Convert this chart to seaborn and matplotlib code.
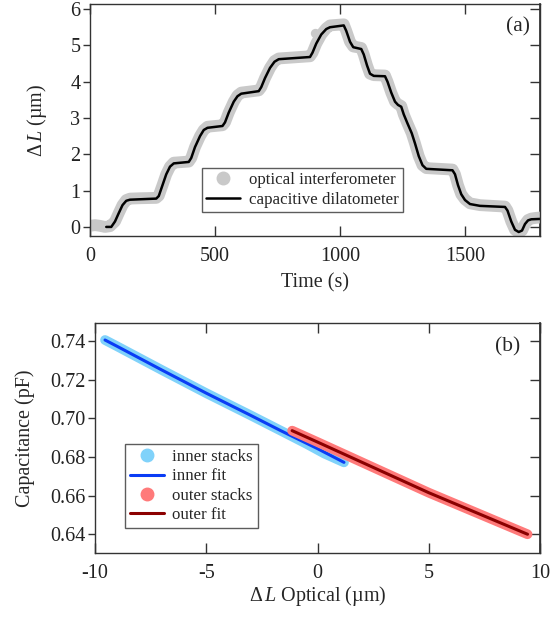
import numpy as np
import pandas as pd
import seaborn as sns
import matplotlib
matplotlib.use("Agg")
import matplotlib.pyplot as plt
from matplotlib.lines import Line2D

# ---------------- data ----------------
# panel (a): capacitive dilatometer (black line)
cap_t = [65, 85, 100, 115, 130, 145, 160, 265, 275, 290, 305, 320, 335, 395,
         405, 420, 440, 455, 470, 530, 540, 555, 575, 590, 605, 675, 685, 700,
         720, 738, 755, 880, 890, 905, 925, 945, 960, 1015, 1025, 1040, 1053,
         1085, 1095, 1108, 1120, 1135, 1180, 1190, 1205, 1220, 1232, 1245, 1255,
         1270, 1287, 1300, 1315, 1330, 1345, 1450, 1460, 1472, 1485, 1500, 1520,
         1560, 1660, 1670, 1685, 1700, 1715, 1728, 1740, 1752, 1765, 1800]
cap_v = [0.0, 0.0, 0.15, 0.38, 0.6, 0.72, 0.75, 0.78, 0.85, 1.15, 1.45, 1.66,
         1.75, 1.79, 1.9, 2.2, 2.5, 2.67, 2.73, 2.78, 2.88, 3.15, 3.45, 3.6,
         3.67, 3.74, 3.85, 4.1, 4.38, 4.55, 4.62, 4.68, 4.8, 5.05, 5.3, 5.45,
         5.5, 5.55, 5.4, 5.1, 4.95, 4.9, 4.75, 4.45, 4.22, 4.16, 4.15, 4.0, 3.7,
         3.45, 3.36, 3.31, 3.1, 2.85, 2.58, 2.3, 1.95, 1.7, 1.6, 1.56, 1.45,
         1.15, 0.9, 0.74, 0.63, 0.58, 0.55, 0.45, 0.15, -0.08, -0.14, -0.1,
         0.08, 0.18, 0.21, 0.22]

# panel (a): optical interferometer (grey points)
opt_t = [0, 20, 40, 60, 80, 100, 115, 130, 145, 160, 200, 265, 275, 290, 305,
         320, 335, 395, 405, 420, 440, 455, 470, 530, 540, 555, 575, 590, 605,
         675, 685, 700, 720, 738, 755, 880, 890, 905, 925, 945, 960, 1015, 1025,
         1040, 1053, 1085, 1095, 1108, 1120, 1135, 1180, 1190, 1205, 1220, 1232,
         1245, 1255, 1270, 1287, 1300, 1315, 1330, 1345, 1450, 1460, 1472, 1485,
         1500, 1520, 1560, 1660, 1670, 1685, 1700, 1715, 1728, 1740, 1752, 1765,
         1785, 1800]
opt_v = [0.03, 0.05, 0.03, 0.0, 0.02, 0.15, 0.38, 0.6, 0.74, 0.78, 0.79, 0.8,
         0.86, 1.15, 1.45, 1.66, 1.77, 1.8, 1.9, 2.2, 2.5, 2.67, 2.76, 2.8, 2.88,
         3.15, 3.45, 3.62, 3.7, 3.76, 3.85, 4.1, 4.38, 4.57, 4.64, 4.7, 4.8,
         5.05, 5.3, 5.47, 5.55, 5.58, 5.4, 5.1, 4.97, 4.93, 4.75, 4.45, 4.22,
         4.18, 4.17, 4.0, 3.7, 3.45, 3.38, 3.33, 3.1, 2.85, 2.58, 2.3, 1.95,
         1.7, 1.62, 1.58, 1.45, 1.15, 0.9, 0.76, 0.65, 0.6, 0.56, 0.45, 0.15,
         -0.08, -0.15, -0.1, 0.08, 0.19, 0.23, 0.25, 0.26]
opt_out_t = [900]
opt_out_v = [5.35]

# panel (b)
inner_x = [-9.55, -9.0, -7.0, -5.0, -3.0, -1.67, -0.5, 0.3, 1.19]
inner_y = [0.7405, 0.7372, 0.7250, 0.7130, 0.7015, 0.6937, 0.6868, 0.6818, 0.6772]
inner_fit_x = [-9.55, -9.0, -7.0, -5.0, -3.0, -1.67, 0.0, 1.19]
inner_fit_y = [0.7405, 0.7372, 0.7250, 0.7130, 0.7015, 0.6937, 0.6843, 0.6772]
outer_x = [-1.14, 0.0, 2.5, 5.0, 7.5, 9.44]
outer_y = [0.6936, 0.6877, 0.6746, 0.6615, 0.6494, 0.640]
outer_fit_x = [-1.14, 0.0, 2.5, 5.0, 7.5, 9.44]
outer_fit_y = [0.6936, 0.6877, 0.6746, 0.6615, 0.6494, 0.640]

xticks_a = [0, 500, 1000, 1500]
yticks_a = [0, 1, 2, 3, 4, 5, 6]
xticks_b = [-10, -5, 0, 5, 10]
yticks_b = [0.64, 0.66, 0.68, 0.70, 0.72, 0.74]

# ---------------- style ----------------
sns.set_theme(style="ticks")
plt.rcParams["font.family"] = ["Liberation Serif", "DejaVu Serif"]
plt.rcParams["mathtext.fontset"] = "custom"
plt.rcParams["mathtext.rm"] = "Liberation Serif"
plt.rcParams["mathtext.it"] = "Liberation Serif:italic"
plt.rcParams["axes.unicode_minus"] = False
plt.rcParams["font.size"] = 14

SPINE = "#333333"
FS = 14.5
LFS = 12.2

fig = plt.figure(figsize=(5.5, 6.26), dpi=100)
axa = fig.add_axes([90 / 550, 1 - 236 / 626, 450 / 550, 232 / 626])
axb = fig.add_axes([95 / 550, 1 - 553 / 626, 445 / 550, 230 / 626])


def style_axes(ax, yticks):
    for s in ax.spines.values():
        s.set_color(SPINE)
        s.set_linewidth(1.0)
    ax.tick_params(axis="x", direction="in", top=True, length=7, width=1,
                   color=SPINE, labelsize=FS, pad=8, labelcolor="#222222")
    ax.tick_params(axis="y", direction="out", length=5, width=1,
                   color=SPINE, labelsize=FS, pad=2, labelcolor="#222222")
    sec = ax.secondary_yaxis("right")
    sec.set_yticks(yticks)
    sec.tick_params(direction="in", length=7, width=1, color=SPINE,
                    labelright=False)
    sec.spines["right"].set_color(SPINE)


# ---------------- panel (a) ----------------
sns.lineplot(x=opt_t, y=opt_v, ax=axa, color="#c9c9c9", lw=8.5,
             solid_joinstyle="round", solid_capstyle="round", zorder=1)
axa.scatter(opt_out_t, opt_out_v, s=45, color="#c9c9c9", lw=0, zorder=1)
sns.lineplot(x=cap_t, y=cap_v, ax=axa, color="black", lw=1.8, zorder=2)
axa.set_xlim(0, 1800)
axa.set_ylim(-0.25, 6.14)
axa.set_xticks(xticks_a)
axa.set_yticks(yticks_a)
style_axes(axa, yticks_a)
axa.set_xlabel("Time (s)", fontsize=FS, labelpad=5)
axa.set_ylabel(r"$\Delta\,\mathit{L}$ (µm)", fontsize=FS, labelpad=15)
axa.text(0.978, 0.9, "(a)", transform=axa.transAxes, ha="right",
         va="center", fontsize=FS + 1)
h_a = [Line2D([], [], marker="o", ls="none", color="#c9c9c9", ms=9),
       Line2D([], [], color="black", lw=1.8)]
leg_a = axa.legend(h_a, ["optical interferometer", "capacitive dilatometer"],
                   loc="upper left", bbox_to_anchor=(0.249, 0.293),
                   borderaxespad=0, fontsize=LFS, frameon=True, fancybox=False,
                   handlelength=2.0, handletextpad=0.5, labelspacing=0.2,
                   borderpad=0.25)
leg_a.get_frame().set_edgecolor(SPINE)
leg_a.get_frame().set_linewidth(1.0)

# ---------------- panel (b) ----------------
sns.lineplot(x=inner_x, y=inner_y, ax=axb, color="#80d2fa", lw=7,
             solid_capstyle="round", sort=False, zorder=1)
sns.lineplot(x=inner_fit_x, y=inner_fit_y, ax=axb, color="#0a3cf5", lw=2.2,
             sort=False, zorder=2)
sns.lineplot(x=outer_x, y=outer_y, ax=axb, color="#ff7a7a", lw=7,
             solid_capstyle="round", sort=False, zorder=3)
sns.lineplot(x=outer_fit_x, y=outer_fit_y, ax=axb, color="#8b0000", lw=2.2,
             sort=False, zorder=4)
axb.set_xlim(-10, 10)
axb.set_ylim(0.6303, 0.7493)
axb.set_xticks(xticks_b)
axb.set_yticks(yticks_b)
axb.set_yticklabels([f"{v:.2f}" for v in yticks_b])
style_axes(axb, yticks_b)
axb.set_xlabel(r"$\Delta\,\mathit{L}$ Optical (µm)", fontsize=FS, labelpad=1)
axb.set_ylabel("Capacitance (pF)", fontsize=FS, labelpad=11)
axb.text(0.955, 0.896, "(b)", transform=axb.transAxes, ha="right",
         va="center", fontsize=FS + 1)
h_b = [Line2D([], [], marker="o", ls="none", color="#80d2fa", ms=9),
       Line2D([], [], color="#0a3cf5", lw=2.2),
       Line2D([], [], marker="o", ls="none", color="#ff7a7a", ms=9),
       Line2D([], [], color="#8b0000", lw=2.2)]
leg_b = axb.legend(h_b, ["inner stacks", "inner fit", "outer stacks", "outer fit"],
                   loc="upper left", bbox_to_anchor=(0.067, 0.474),
                   borderaxespad=0, fontsize=LFS, frameon=True, fancybox=False,
                   handlelength=2.0, handletextpad=0.5, labelspacing=0.2,
                   borderpad=0.3)
leg_b.get_frame().set_edgecolor(SPINE)
leg_b.get_frame().set_linewidth(1.0)

fig.savefig("out.png", dpi=100)
